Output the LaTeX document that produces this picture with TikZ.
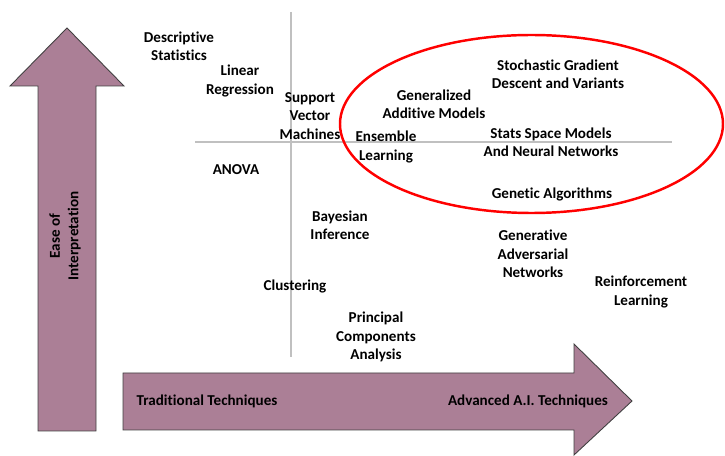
\documentclass[tikz,border=0pt]{standalone}
\usepackage{fontspec}
\setmainfont{Carlito}[Ligatures=NoCommon]
\usepackage{tikz}

\definecolor{mauve}{HTML}{AB7F96}
\definecolor{edgegray}{HTML}{404040}
\definecolor{crossgray}{HTML}{C0C0C0}

\begin{document}
\begin{tikzpicture}[x=0.02cm, y=-0.02cm, outer sep = 0pt]

\tikzstyle{label}=[align=center, inner sep=0pt, font=\bfseries\fontsize{8.6}{10.5}\selectfont]
\tikzstyle{bigarrow}=[fill=mauve, draw=edgegray, line width=0.5pt, line join=miter]

\useasboundingbox (0,0) rectangle (725,456);

% arrows
\draw[bigarrow] (38,431) -- (38,86) -- (10,86) -- (67,28) -- (124,86) -- (96,86) -- (96,431) -- cycle;
\draw[bigarrow] (123,373) -- (574,373) -- (574,344) -- (632,401) -- (574,455) -- (574,430) -- (123,430) -- cycle;

% quadrant lines
\draw[crossgray, line width=1.6pt] (291,12) -- (291,357);
\draw[crossgray, line width=1.6pt] (195,142) -- (672,142);

% highlighted group
\draw[red, line width=1.4pt] (531.5,124) ellipse [x radius=191.5, y radius=89];

\node[label] (desc) at (179,46) {Descriptive\\Statistics};
\node[label] (linreg) at (240,81) {Linear\\Regression};
\node[label] (svm) at (310,116) {Support\\Vector\\Machines};
\node[label] (gam) at (434,104) {Generalized\\Additive Models};
\node[label] (sgd) at (558,74) {Stochastic Gradient\\Descent and Variants};
\node[label] (ssm) at (551,142) {Stats Space Models\\And Neural Networks};
\node[label] (ens) at (386,147) {Ensemble\\Learning};
\node[label] (anova) at (236,170) {ANOVA};
\node[label] (gen) at (552,194) {Genetic Algorithms};
\node[label] (bayes) at (340,225) {Bayesian\\Inference};
\node[label] (gan) at (533,254) {Generative\\Adversarial\\Networks};
\node[label] (rl) at (641,292) {Reinforcement\\Learning};
\node[label] (clust) at (295,286) {Clustering};
\node[label] (pca) at (376,337) {Principal\\Components\\Analysis};
\node[label] (trad) at (207,401) {Traditional Techniques};
\node[label] (adv) at (528,401) {Advanced A.I. Techniques};
\node[label, rotate=90] (ease) at (65,236) {Ease of\\Interpretation};

\end{tikzpicture}
\end{document}
